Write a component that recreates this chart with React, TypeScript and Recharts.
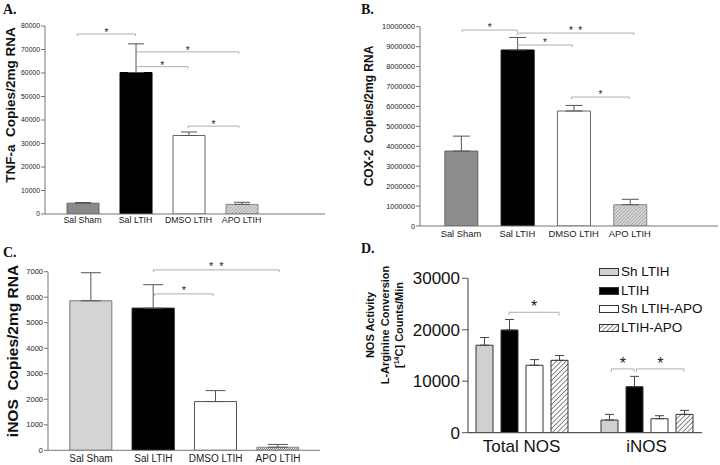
import React from "react";
import { BarChart, Bar, XAxis, YAxis, ErrorBar, Cell, ReferenceLine, Legend } from "recharts";

const FONT = '"Liberation Sans", Arial, Helvetica, sans-serif';
const SERIF = '"Liberation Serif", "Times New Roman", serif';

// groups for panels A-C
const groups = ["Sal Sham", "Sal LTIH", "DMSO LTIH", "APO LTIH"];

// A. TNF-a
const tnfValues = [4600, 60200, 33400, 4100];
const tnfErrors = [300, 12200, 1500, 900];
const tnfTicks = [0, 10000, 20000, 30000, 40000, 50000, 60000, 70000, 80000];

// B. COX-2
const coxValues = [3760000, 8830000, 5770000, 1070000];
const coxErrors = [750000, 630000, 280000, 270000];
const coxTicks = [0, 1000000, 2000000, 3000000, 4000000, 5000000, 6000000, 7000000, 8000000, 9000000, 10000000];

// C. iNOS
const inosValues = [5860, 5570, 1910, 120];
const inosErrors = [1100, 920, 430, 110];
const inosTicks = [0, 1000, 2000, 3000, 4000, 5000, 6000, 7000];

// D. NOS activity
const nosSites = ["Total NOS", "iNOS"];
const nosSeries = ["Sh LTIH", "LTIH", "Sh LTIH-APO", "LTIH-APO"];
const shLtihValues = [17000, 2460];
const shLtihErrors = [1500, 1100];
const ltihValues = [19960, 8940];
const ltihErrors = [2040, 2010];
const shApoValues = [13100, 2720];
const shApoErrors = [1100, 580];
const ltihApoValues = [14060, 3560];
const ltihApoErrors = [940, 780];
const nosTicks = [0, 10000, 20000, 30000];

// significance brackets: x in group index units, y in data units
const tnfBrackets = [
  { from: -0.1, to: 1.0, y: 76600, mark: "*" },
  { from: 1.02, to: 2.95, y: 69000, mark: "*" },
  { from: 1.02, to: 1.99, y: 62700, mark: "*" },
  { from: 1.99, to: 2.95, y: 37400, mark: "*" },
];
const coxBrackets = [
  { from: 0.02, to: 1.0, y: 9830000, mark: "*" },
  { from: 1.0, to: 3.07, y: 9680000, mark: "* *" },
  { from: 1.0, to: 1.98, y: 9080000, mark: "*" },
  { from: 1.96, to: 2.99, y: 6470000, mark: "*" },
];
const inosBrackets = [
  { from: 1.0, to: 3.02, y: 7070, mark: "* *" },
  { from: 1.02, to: 1.96, y: 6130, mark: "*" },
];
const nosBrackets = [
  { from: -0.1, to: 0.3, y: 23400, mark: "*" },
  { from: 0.72, to: 0.9, y: 12400, mark: "*" },
  { from: 0.92, to: 1.3, y: 12400, mark: "*" },
];

function bracketShape(p, b, s) {
  const left = Math.min(p.x1, p.x2);
  const right = Math.max(p.x1, p.x2);
  const y = p.y1;
  const cy = y - s.lift;
  return (
    <g>
      <path
        d={`M${left},${y + s.drop}V${y}H${right}V${y + s.drop}`}
        fill="none"
        stroke={s.line}
        strokeWidth={0.8}
      />
      <text
        x={(left + right) / 2}
        y={cy + 0.58 * s.size}
        textAnchor="middle"
        fontSize={s.size}
        fontFamily={FONT}
        wordSpacing={s.size * 0.25}
        fill="#1a1a1a"
        stroke="none"
      >
        {b.mark}
      </text>
    </g>
  );
}

function Brackets(list, s) {
  return list.map((b, i) => (
    <ReferenceLine
      key={"br" + i}
      segment={[
        { x: b.from, y: b.y },
        { x: b.to, y: b.y },
      ]}
      ifOverflow="visible"
      shape={(p) => bracketShape(p, b, s)}
    />
  ));
}

function GenePanel({ cfg }) {
  const data = groups.map((g, i) => ({
    x: i,
    name: g,
    value: cfg.values[i],
    err: [0, cfg.errors[i]],
  }));
  return (
    <div style={{ position: "absolute", left: cfg.left, top: cfg.top }}>
      <BarChart width={cfg.width} height={cfg.height} data={data} margin={cfg.margin}>
        <defs>
          <pattern id={"hatch" + cfg.id} patternUnits="userSpaceOnUse" width={2.4} height={2.4} patternTransform="rotate(45)">
            <rect width={2.4} height={2.4} fill="#d6d6d6" />
            <line x1={0} y1={0} x2={0} y2={2.4} stroke="#8a8a8a" strokeWidth={1} />
          </pattern>
          <pattern id={"dots" + cfg.id} patternUnits="userSpaceOnUse" width={2} height={2}>
            <rect width={2} height={2} fill="#e0e0e0" />
            <rect width={1} height={1} fill="#8a8a8a" />
            <rect x={1} y={1} width={1} height={1} fill="#8a8a8a" />
          </pattern>
        </defs>
        <XAxis
          type="number"
          dataKey="x"
          domain={cfg.xDomain}
          allowDataOverflow
          ticks={[0, 1, 2, 3]}
          interval={0}
          tickFormatter={(i) => groups[i]}
          tickLine={false}
          tickSize={cfg.xTickSize}
          tickMargin={1}
          height={cfg.xHeight}
          axisLine={{ stroke: "#777" }}
          tick={{ fontSize: cfg.xFont, fill: "#222", fontFamily: FONT }}
        />
        <YAxis
          type="number"
          domain={[0, cfg.yTicks[cfg.yTicks.length - 1]]}
          allowDataOverflow
          ticks={cfg.yTicks}
          interval={0}
          width={cfg.yWidth}
          tickSize={4}
          tickMargin={1}
          axisLine={{ stroke: "#777" }}
          tickLine={{ stroke: "#777" }}
          tick={{ fontSize: cfg.yFont, fill: "#222", fontFamily: FONT }}
        />
        <Bar dataKey="value" barSize={cfg.barSize} isAnimationActive={false} strokeWidth={1}>
          {data.map((d, i) => (
            <Cell key={i} fill={cfg.fills[i]} stroke={cfg.strokes[i]} />
          ))}
          <ErrorBar dataKey="err" direction="y" width={cfg.cap} stroke="#555" strokeWidth={1} />
        </Bar>
        {Brackets(cfg.brackets, cfg.star)}
        <text x={cfg.titleX} y={cfg.titleY} fontFamily={SERIF} fontWeight="bold" fontSize={14} fill="#111">
          {cfg.title}
        </text>
        <text
          transform={`translate(${cfg.labelX},${cfg.labelY}) rotate(-90)`}
          textAnchor="middle"
          fontFamily={FONT}
          fontWeight="bold"
          fontSize={cfg.labelFont}
          fill="#111"
          style={{ whiteSpace: "pre" }}
        >
          {cfg.label}
        </text>
      </BarChart>
    </div>
  );
}

const panelA = {
  id: "A", title: "A.", titleX: 3, titleY: 14,
  left: 0, top: 0, width: 360, height: 232,
  margin: { top: 26, right: 35, bottom: 0, left: 0 },
  xDomain: [-0.708, 4.575], xHeight: 18, xTickSize: 2, xFont: 8.8,
  yWidth: 45, yFont: 6.8, yTicks: tnfTicks,
  values: tnfValues, errors: tnfErrors, barSize: 32, cap: 8,
  fills: ["#8a8a8a", "#000", "#fff", "url(#hatchA)"],
  strokes: ["#666", "#000", "#666", "#888"],
  brackets: tnfBrackets,
  star: { size: 10, lift: 3.5, drop: 2, line: "#999" },
  label: "TNF-a  Copies/2mg RNA", labelX: 15, labelY: 105, labelFont: 13.5,
};

const panelB = {
  id: "B", title: "B.", titleX: 1, titleY: 14,
  left: 360, top: 0, width: 360, height: 245,
  margin: { top: 26.7, right: 2, bottom: 0, left: 0 },
  xDomain: [-0.728, 4.565], xHeight: 19, xTickSize: 3, xFont: 9.4,
  yWidth: 60, yFont: 7.4, yTicks: coxTicks,
  values: coxValues, errors: coxErrors, barSize: 33, cap: 8.5,
  fills: ["#8c8c8c", "#000", "#fff", "url(#hatchB)"],
  strokes: ["#666", "#000", "#666", "#888"],
  brackets: coxBrackets,
  star: { size: 10, lift: 4.5, drop: 2, line: "#999" },
  label: "COX-2  Copies/2mg RNA", labelX: 13, labelY: 116, labelFont: 12,
};

const panelC = {
  id: "C", title: "C.", titleX: 3, titleY: 25,
  left: 0, top: 232, width: 360, height: 233,
  margin: { top: 39.7, right: 40, bottom: 0, left: 0 },
  xDomain: [-0.69, 3.674], xHeight: 14.7, xTickSize: 4, xFont: 10,
  yWidth: 48, yFont: 7.5, yTicks: inosTicks,
  values: inosValues, errors: inosErrors, barSize: 42, cap: 10,
  fills: ["#d4d4d4", "#000", "#fff", "url(#dotsC)"],
  strokes: ["#777", "#000", "#555", "#888"],
  brackets: inosBrackets,
  star: { size: 11, lift: 6.5, drop: 2, line: "#999" },
  label: "iNOS  Copies/2mg RNA", labelX: 18, labelY: 119, labelFont: 15.5,
};

function NosLegend(props) {
  const { payload } = props;
  const items = [...(payload || [])].sort(
    (a, b) => nosSeries.indexOf(a.value) - nosSeries.indexOf(b.value)
  );
  return (
    <div style={{ fontFamily: FONT, fontSize: 13.5, color: "#111" }}>
      {items.map((e, i) => (
        <div key={i} style={{ display: "flex", alignItems: "center", height: 18.5 }}>
          <svg width={20} height={8} style={{ display: "block" }}>
            <rect x={0.5} y={0.5} width={19} height={7} fill={e.payload?.fill || e.color} stroke="#333" strokeWidth={1} />
          </svg>
          <span style={{ marginLeft: 2, lineHeight: "18px", whiteSpace: "nowrap" }}>{e.value}</span>
        </div>
      ))}
    </div>
  );
}

function PanelD() {
  const data = nosSites.map((s, i) => ({
    x: i,
    site: s,
    shLtih: shLtihValues[i],
    shLtihErr: [0, shLtihErrors[i]],
    ltih: ltihValues[i],
    ltihErr: [0, ltihErrors[i]],
    shApo: shApoValues[i],
    shApoErr: [0, shApoErrors[i]],
    ltihApo: ltihApoValues[i],
    ltihApoErr: [0, ltihApoErrors[i]],
  }));
  const series = [
    { key: "shLtih", fill: "#d0d0d0" },
    { key: "ltih", fill: "#000" },
    { key: "shApo", fill: "#fff" },
    { key: "ltihApo", fill: "url(#hatchD)" },
  ];
  return (
    <div style={{ position: "absolute", left: 360, top: 230 }}>
      <BarChart
        width={360}
        height={235}
        data={data}
        margin={{ top: 48.3, right: 18, bottom: 0, left: 0 }}
        barGap={8}
      >
        <defs>
          <pattern id="hatchD" patternUnits="userSpaceOnUse" width={3.4} height={3.4} patternTransform="rotate(45)">
            <rect width={3.4} height={3.4} fill="#fff" />
            <line x1={0} y1={0} x2={0} y2={3.4} stroke="#222" strokeWidth={1.1} />
          </pattern>
        </defs>
        <XAxis
          type="number"
          dataKey="x"
          domain={[-0.428, 1.444]}
          allowDataOverflow
          ticks={[0, 1]}
          interval={0}
          tickFormatter={(i) => nosSites[i]}
          tickLine={false}
          tickSize={6}
          tickMargin={1}
          height={32.3}
          axisLine={{ stroke: "#555", strokeWidth: 1.2 }}
          tick={{ fontSize: 17, fill: "#111", fontFamily: FONT }}
        />
        <YAxis
          type="number"
          domain={[0, 30000]}
          allowDataOverflow
          ticks={nosTicks}
          interval={0}
          width={108}
          tickSize={6}
          tickMargin={2}
          axisLine={{ stroke: "#555", strokeWidth: 1.2 }}
          tickLine={{ stroke: "#555" }}
          tick={{ fontSize: 17, fill: "#111", fontFamily: FONT }}
        />
        <Legend
          layout="vertical"
          align="center"
          verticalAlign="middle"
          wrapperStyle={{ left: 239, top: 33, width: 120 }}
          content={<NosLegend />}
        />
        {series.map((s, i) => (
          <Bar
            key={s.key}
            dataKey={s.key}
            name={nosSeries[i]}
            fill={s.fill}
            stroke="#333"
            strokeWidth={1}
            barSize={17}
            isAnimationActive={false}
          >
            <ErrorBar dataKey={s.key + "Err"} direction="y" width={4.5} stroke="#444" strokeWidth={1} />
          </Bar>
        ))}
        {Brackets(nosBrackets, { size: 16, lift: 9.5, drop: 3, line: "#999" })}
        <text x={1} y={23} fontFamily={SERIF} fontWeight="bold" fontSize={14} fill="#111">
          D.
        </text>
        <g transform="translate(14,95) rotate(-90)" fontFamily={FONT} fontWeight="bold" fontSize={11} fill="#111" textAnchor="middle">
          <text x={0} y={0}>NOS Activity</text>
          <text x={0} y={15}>L-Arginine Conversion</text>
          <text x={0} y={29}>
            [<tspan fontSize={7} dy={-4}>14</tspan>
            <tspan dy={4}>C] Counts/Min</tspan>
          </text>
        </g>
      </BarChart>
    </div>
  );
}

export default function App() {
  return (
    <div style={{ position: "absolute", left: 0, top: 0, width: 720, height: 465, background: "#fff", overflow: "hidden" }}>
      <GenePanel cfg={panelA} />
      <GenePanel cfg={panelB} />
      <GenePanel cfg={panelC} />
      <PanelD />
    </div>
  );
}
